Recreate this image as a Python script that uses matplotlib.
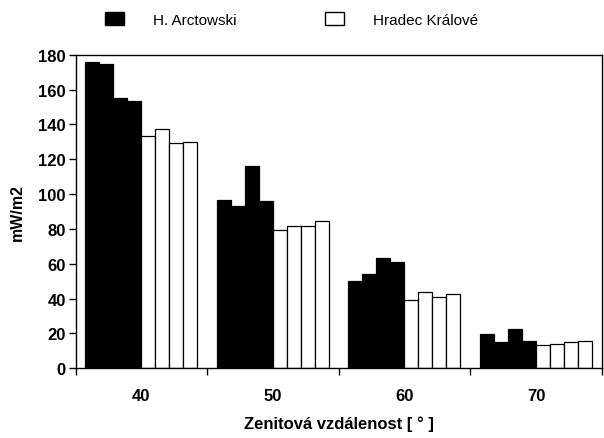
import numpy as np
import matplotlib
matplotlib.use("Agg")
import matplotlib.pyplot as plt
from matplotlib.patches import Patch

# data
groups = ["40", "50", "60", "70"]
arctowski = [
    [175.6, 174.7, 155.0, 153.4],
    [96.5, 93.1, 116.3, 96.3],
    [50.0, 54.0, 63.4, 61.1],
    [19.5, 15.3, 22.8, 15.9],
]
hradec = [
    [133.3, 137.3, 129.1, 129.8],
    [79.1, 81.4, 81.4, 84.7],
    [39.3, 43.9, 40.8, 42.7],
    [13.2, 14.0, 14.9, 15.7],
]
series_names = ["H. Arctowski", "Hradec Králové"]

plt.rcParams['font.family'] = ['Liberation Sans', 'DejaVu Sans']

fig = plt.figure(figsize=(6.04, 4.39), dpi=100)
ax = fig.add_axes([0.1253, 0.1588, 0.8709, 0.7143])

w = 0.1065
x = np.arange(len(groups))
for g in range(len(groups)):
    vals = list(arctowski[g]) + list(hradec[g])
    for i, v in enumerate(vals):
        black = i < 4
        ax.bar(x[g] + (i - 3.5) * w, v, width=w,
               color='black' if black else 'white',
               edgecolor='black', linewidth=0.9)

ax.set_xlim(-0.5, 3.5)
ax.set_ylim(0, 180)
ax.set_yticks(np.arange(0, 181, 20))
ax.set_xticks(x)
ax.set_xticklabels(groups)
ax.set_xticks(np.arange(-0.5, 3.6, 1.0), minor=True)
ax.tick_params(axis='x', which='major', length=0, pad=14)
ax.tick_params(axis='x', which='minor', length=5, width=1, direction='out')
ax.tick_params(axis='y', length=5, width=1, pad=2)
for lab in ax.get_xticklabels() + ax.get_yticklabels():
    lab.set_fontweight('bold')
    lab.set_fontsize(12)
for s in ax.spines.values():
    s.set_linewidth(1)

ax.set_xlabel("Zenitová vzdálenost [ ° ]", fontsize=12, fontweight='bold', labelpad=9)
ax.set_ylabel("mW/m2", fontsize=11.5, fontweight='bold', labelpad=10)

handles = [Patch(facecolor='black', edgecolor='black'),
           Patch(facecolor='white', edgecolor='black')]
fig.legend(handles, series_names, loc='center', bbox_to_anchor=(0.483, 0.954),
           ncol=2, frameon=False, fontsize=11, handlelength=1.25, handleheight=1.0,
           handletextpad=1.9, columnspacing=5.8)

fig.savefig("out.png", dpi=100)
